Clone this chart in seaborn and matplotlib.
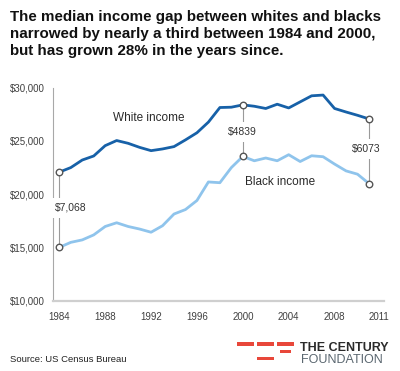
import matplotlib
matplotlib.use("Agg")
import matplotlib.pyplot as plt
from matplotlib.patches import Rectangle
import seaborn as sns
import pandas as pd

years = list(range(1984, 2012))
white_income = [22055, 22480, 23190, 23570, 24540, 25020, 24760, 24380, 24070, 24230,
                24450, 25080, 25750, 26750, 28120, 28150, 28368, 28240, 28030, 28430,
                28080, 28650, 29220, 29290, 28030, 27700, 27390, 27050]
black_income = [14987, 15460, 15690, 16160, 16950, 17300, 16950, 16710, 16410, 17020,
                18120, 18540, 19390, 21130, 21060, 22480, 23529, 23120, 23380, 23120,
                23690, 23050, 23590, 23500, 22810, 22170, 21860, 20977]
series_names = ["White income", "Black income"]
highlight_years = [1984, 2000, 2011]
gap_labels = ["$7,068", "$4839", "$6073"]
x_ticks = [1984, 1988, 1992, 1996, 2000, 2004, 2008]
y_ticks = [10000, 15000, 20000, 25000, 30000]
y_tick_labels = ["$10,000", "$15,000", "$20,000", "$25,000", "$30,000"]

df = pd.DataFrame({
    "year": years * 2,
    "income": white_income + black_income,
    "series": [series_names[0]] * len(years) + [series_names[1]] * len(years),
})

sns.set_theme(style="white")
plt.rcParams["font.family"] = ["Liberation Sans", "DejaVu Sans"]

W, H = 400, 371
fig = plt.figure(figsize=(4, 3.71), dpi=100)
ax = fig.add_axes([53 / W, 1 - 300.5 / H, (384 - 53) / W, (300.5 - 87.5) / H])

palette = {"White income": "#1761a8", "Black income": "#8fc4ec"}
sns.lineplot(data=df, x="year", y="income", hue="series", palette=palette,
             linewidth=2.0, ax=ax, legend=False, zorder=3)

# connectors and gap labels
wmap = dict(zip(years, white_income))
bmap = dict(zip(years, black_income))
for yr in highlight_years:
    ax.plot([yr, yr], [bmap[yr], wmap[yr]], color="#9a9a9a", lw=0.8, zorder=2)

lab_pos = [(1983.63, 18690, "left"), (2000, 25805, "center"), (2010.74, 24230, "center")]
for (lx, ly, ha), txt in zip(lab_pos, gap_labels):
    ax.text(lx, ly, txt, ha=ha, va="center", fontsize=7.5, color="#333333", zorder=4,
            bbox=dict(boxstyle="square,pad=0.45", fc="white", ec="none"), clip_on=False)

hl = df[df["year"].isin(highlight_years)]
sns.scatterplot(data=hl, x="year", y="income", ax=ax, s=22, facecolor="white",
                edgecolor="#555555", linewidth=1.0, zorder=5, legend=False, clip_on=False)

ax.text(1991.82, 27134, "White income", ha="center", va="center", fontsize=8.5, color="#2a2a2a")
ax.text(2003.27, 21127, "Black income", ha="center", va="center", fontsize=8.5, color="#2a2a2a")

ax.set_xlim(1983.45, 2012.31)
ax.set_ylim(10000, 30000)
ax.set_xticks(x_ticks + [2011.85])
ax.set_xticklabels([str(t) for t in x_ticks] + ["2011"])
ax.set_yticks(y_ticks)
ax.set_yticklabels(y_tick_labels)
ax.tick_params(axis="y", length=0, pad=6, labelsize=7, labelcolor="#404040")
ax.tick_params(axis="x", length=0, pad=8, labelsize=7, labelcolor="#404040")
ax.set_xlabel("")
ax.set_ylabel("")
ax.grid(False)
for s in ["top", "right"]:
    ax.spines[s].set_visible(False)
ax.spines["left"].set_color("#a8a8a8")
ax.spines["left"].set_linewidth(0.8)
ax.spines["bottom"].set_color("#cfcfcf")
ax.spines["bottom"].set_linewidth(1.6)

# title
title_lines = ["The median income gap between whites and blacks",
               "narrowed by nearly a third between 1984 and 2000,",
               "but has grown 28% in the years since."]
for i, line in enumerate(title_lines):
    fig.text(10 / W, 1 - (20.5 + 17.3 * i) / H, line, ha="left", va="baseline",
             fontsize=10.9, fontweight="bold", color="#111111")

fig.text(10.5 / W, 1 - 360 / H, "Source: US Census Bureau", ha="left", va="center",
         fontsize=6.8, color="#222222")

# logo
red = "#e8473a"
for (x0, x1, y0, y1) in [(237, 253.5, 342.3, 345.8), (257.3, 273.5, 342.3, 345.8),
                         (277.3, 294, 342.3, 345.8), (280, 290.7, 349.8, 352.8),
                         (257.3, 274.3, 356.7, 360)]:
    fig.add_artist(Rectangle((x0 / W, 1 - y1 / H), (x1 - x0) / W, (y1 - y0) / H,
                             transform=fig.transFigure, color=red, lw=0))
fig.text(300.5 / W, 1 - 351 / H, "THE CENTURY", ha="left", va="baseline", fontsize=9,
         fontweight="bold", color="#2b2b2b")
fig.text(301.5 / W, 1 - 363.3 / H, "FOUNDATION", ha="left", va="baseline", fontsize=9,
         color="#5b6770")

fig.savefig("out.png", dpi=100, facecolor="white")
